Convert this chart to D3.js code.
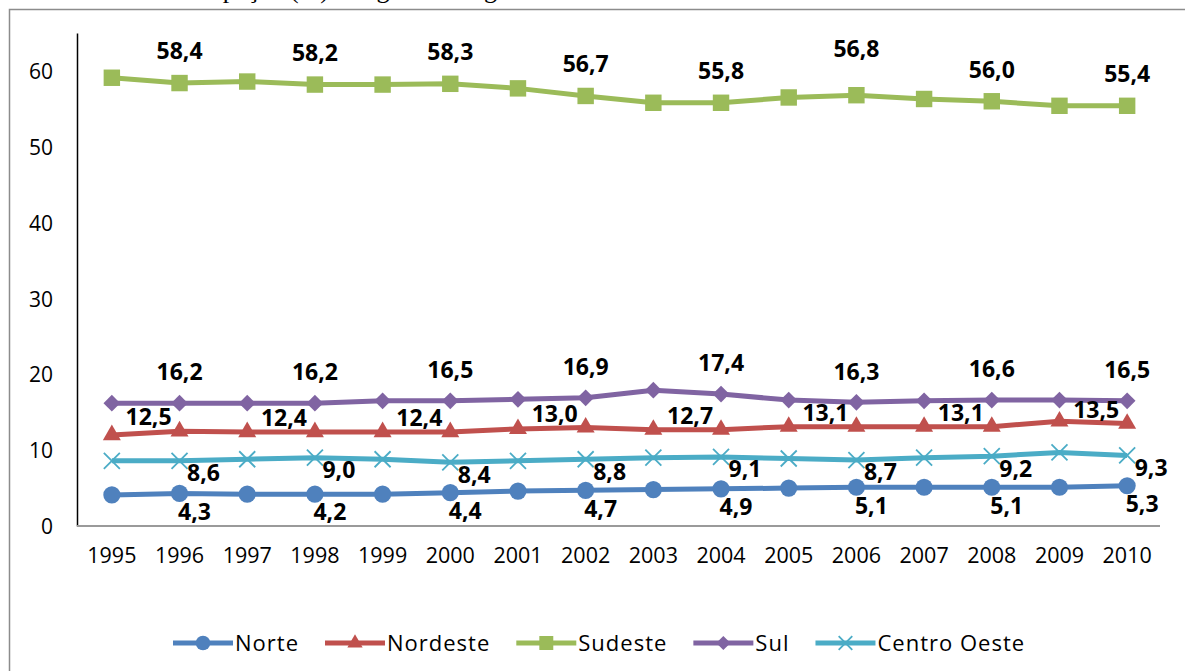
<!DOCTYPE html>
<html>
<head>
<meta charset="utf-8">
<script src="https://cdn.jsdelivr.net/npm/d3@7"></script>
<style>
  body { margin: 0; background: #fff; }
  svg { display: block; font-family: "Open Sans", sans-serif; }
</style>
</head>
<body>
<svg id="chart" width="1185" height="671"></svg>
<script>
// Data
const years = [1995, 1996, 1997, 1998, 1999, 2000, 2001, 2002, 2003, 2004, 2005, 2006, 2007, 2008, 2009, 2010];
const yTicks = [0, 10, 20, 30, 40, 50, 60];

const norte = [4.1, 4.3, 4.2, 4.2, 4.2, 4.4, 4.6, 4.7, 4.8, 4.9, 5.0, 5.1, 5.1, 5.1, 5.1, 5.3];
const nordeste = [12.0, 12.5, 12.4, 12.4, 12.4, 12.4, 12.8, 13.0, 12.7, 12.7, 13.1, 13.1, 13.1, 13.1, 13.8, 13.5];
const sudeste = [59.1, 58.4, 58.6, 58.2, 58.2, 58.3, 57.7, 56.7, 55.8, 55.8, 56.5, 56.8, 56.3, 56.0, 55.4, 55.4];
const sul = [16.2, 16.2, 16.2, 16.2, 16.5, 16.5, 16.7, 16.9, 17.9, 17.4, 16.6, 16.3, 16.5, 16.6, 16.6, 16.5];
const centroOeste = [8.6, 8.6, 8.8, 9.0, 8.8, 8.4, 8.6, 8.8, 9.0, 9.1, 8.9, 8.7, 9.0, 9.2, 9.7, 9.3];

const seriesNames = ["Norte", "Nordeste", "Sudeste", "Sul", "Centro Oeste"];
const seriesValues = [norte, nordeste, sudeste, sul, centroOeste];

// styles (Excel 2007 palette), marker kind and label offset per series
const colors = ["#4f81bd", "#c0504d", "#9bbb59", "#8064a2", "#4bacc6"];
const markers = ["circle", "triangle", "square", "diamond", "x"];
const labelOffset = [
  { dx: 15, dy: 18 },
  { dx: -31, dy: -14 },
  { dx: 0, dy: -32 },
  { dx: 0, dy: -31 },
  { dx: 24, dy: 12 }
];

const svg = d3.select("#chart");

// frame and the caption above it (cut off at the top, as in the source)
svg.append("text")
  .attr("x", 30)
  .attr("y", -2)
  .attr("font-family", "'Liberation Serif', serif")
  .attr("font-size", 26)
  .text("Gráfico 1 – Participação (%) das grandes regiões no PIB – 1995 a 2010");

svg.append("rect")
  .attr("x", 9.5)
  .attr("y", 9.5)
  .attr("width", 1200)
  .attr("height", 700)
  .attr("fill", "none")
  .attr("stroke", "#8c8c8c")
  .attr("stroke-width", 1.5);

const x = d3.scaleBand().domain(years).range([78, 1161]);
const y = d3.scaleLinear().domain([0, 65]).range([526, 33]);
const cx = (i) => x(years[i]) + x.bandwidth() / 2;

// y axis
const yAxis = d3.axisLeft(y).tickValues(yTicks).tickSize(0).tickPadding(24);
const gy = svg.append("g").attr("transform", "translate(77,0)").call(yAxis);
gy.select(".domain").attr("stroke", "#000").attr("stroke-width", 1.5);
gy.selectAll(".tick text")
  .attr("font-family", "'Open Sans', sans-serif")
  .attr("font-size", 21)
  .attr("fill", "#000")
  .attr("dy", "0.36em");

// x axis
const xAxis = d3.axisBottom(x).tickSize(0).tickPadding(22);
const gx = svg.append("g").attr("transform", "translate(0,526)").call(xAxis);
gx.select(".domain").remove();
gx.append("line")
  .attr("x1", 77).attr("x2", 1160)
  .attr("stroke", "#9a9a9a")
  .attr("stroke-width", 2);
gx.selectAll(".tick text")
  .attr("font-family", "'Open Sans', sans-serif")
  .attr("font-size", 21.5)
  .attr("fill", "#000");

// marker drawing
function drawMarker(g, kind, color, scale) {
  const s = scale || 1;
  if (kind === "x") {
    const r = 8 * s;
    g.append("path")
      .attr("d", `M${-r},${-r}L${r},${r}M${-r},${r}L${r},${-r}`)
      .attr("stroke", color)
      .attr("stroke-width", 1.8)
      .attr("fill", "none");
    return;
  }
  let path;
  if (kind === "circle") path = d3.symbol(d3.symbolCircle, 230 * s * s)();
  else if (kind === "triangle") path = d3.symbol(d3.symbolTriangle, 140 * s * s)();
  else if (kind === "square") path = d3.symbol(d3.symbolSquare, 270 * s * s)();
  else path = d3.symbol(d3.symbolSquare, 140 * s * s)();
  const p = g.append("path").attr("d", path).attr("fill", color);
  if (kind === "diamond") p.attr("transform", "rotate(45)");
}

const line = d3.line().x((d, i) => cx(i)).y((d) => y(d));

seriesValues.forEach((vals, k) => {
  const g = svg.append("g").attr("class", "series");
  g.append("path")
    .datum(vals)
    .attr("d", line)
    .attr("fill", "none")
    .attr("stroke", colors[k])
    .attr("stroke-width", 5)
    .attr("stroke-linejoin", "round");

  vals.forEach((v, i) => {
    const m = g.append("g").attr("transform", `translate(${cx(i)},${y(v)})`);
    drawMarker(m, markers[k], colors[k]);
  });
});

// data labels, only every other year like the reference
seriesValues.forEach((vals, k) => {
  svg.append("g")
    .selectAll("text")
    .data(vals.map((v, i) => ({ v, i })).filter((d) => d.i % 2 === 1))
    .enter()
    .append("text")
    .attr("x", (d) => cx(d.i) + labelOffset[k].dx)
    .attr("y", (d) => y(d.v) + labelOffset[k].dy - (k === 2 && d.i === 11 ? 14 : 0))
    .attr("dy", "0.36em")
    .attr("text-anchor", "middle")
    .attr("font-family", "'Open Sans', sans-serif")
    .attr("font-weight", "bold")
    .attr("font-size", 23)
    .attr("fill", "#000")
    .text((d) => d.v.toFixed(1).replace(".", ","));
});

// legend
const legend = svg.append("g").attr("class", "legend");
let lx = 173;
const ly = 643;
seriesNames.forEach((name, k) => {
  const g = legend.append("g");
  g.append("line")
    .attr("x1", lx).attr("x2", lx + 60)
    .attr("y1", ly).attr("y2", ly)
    .attr("stroke", colors[k])
    .attr("stroke-width", 5);
  const m = g.append("g").attr("transform", `translate(${lx + 30},${ly})`);
  drawMarker(m, markers[k], colors[k], 0.85);
  const t = g.append("text")
    .attr("x", lx + 62)
    .attr("y", ly)
    .attr("dy", "0.36em")
    .attr("font-family", "'Open Sans', sans-serif")
    .attr("font-size", 22)
    .attr("letter-spacing", 1)
    .attr("fill", "#000")
    .text(name);
  lx += 62 + t.node().getComputedTextLength() + 26;
});
</script>
</body>
</html>
